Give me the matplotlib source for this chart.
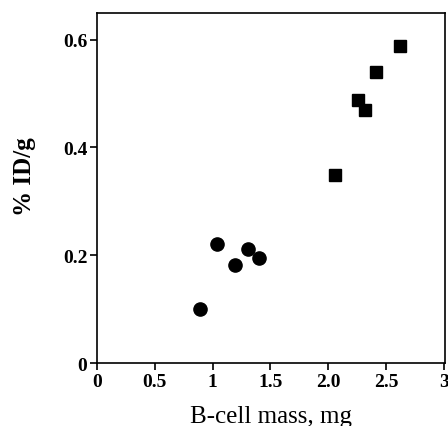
import matplotlib
matplotlib.use("Agg")
import matplotlib.pyplot as plt

# circles: smaller B-cell mass group
circle_x = [0.89, 1.04, 1.19, 1.31, 1.40]
circle_y = [0.101, 0.220, 0.182, 0.211, 0.194]
# squares: larger B-cell mass group
square_x = [2.06, 2.26, 2.32, 2.41, 2.62]
square_y = [0.348, 0.489, 0.469, 0.540, 0.588]

x_ticks = [0, 0.5, 1, 1.5, 2.0, 2.5, 3]
x_labels = ["0", "0.5", "1", "1.5", "2.0", "2.5", "3"]
y_ticks = [0, 0.2, 0.4, 0.6]
y_labels = ["0", "0.2", "0.4", "0.6"]

plt.rcParams['font.family'] = ['Liberation Serif', 'DejaVu Serif']

fig = plt.figure(figsize=(4.48, 4.27), dpi=100)
ax = fig.add_axes([0.2165, 0.1475, 0.777, 0.819])

ax.plot(circle_x, circle_y, "o", color="black", markersize=9.5, clip_on=False)
ax.plot(square_x, square_y, "s", color="black", markersize=8.5, clip_on=False)

ax.set_xlim(0, 3.01)
ax.set_ylim(0, 0.649)
ax.set_xticks(x_ticks)
ax.set_xticklabels(x_labels, fontsize=14, fontweight="bold")
ax.set_yticks(y_ticks)
ax.set_yticklabels(y_labels, fontsize=14, fontweight="bold")
ax.tick_params(direction="out", length=5, width=1.2, pad=2)

for s in ax.spines.values():
    s.set_linewidth(1.2)

ax.set_xlabel("B-cell mass, mg", fontsize=18, labelpad=11)
ax.set_ylabel("% ID/g", fontsize=18, fontweight="bold")
ax.yaxis.set_label_coords(-0.175, 0.535)

fig.savefig("out.png", dpi=100)
